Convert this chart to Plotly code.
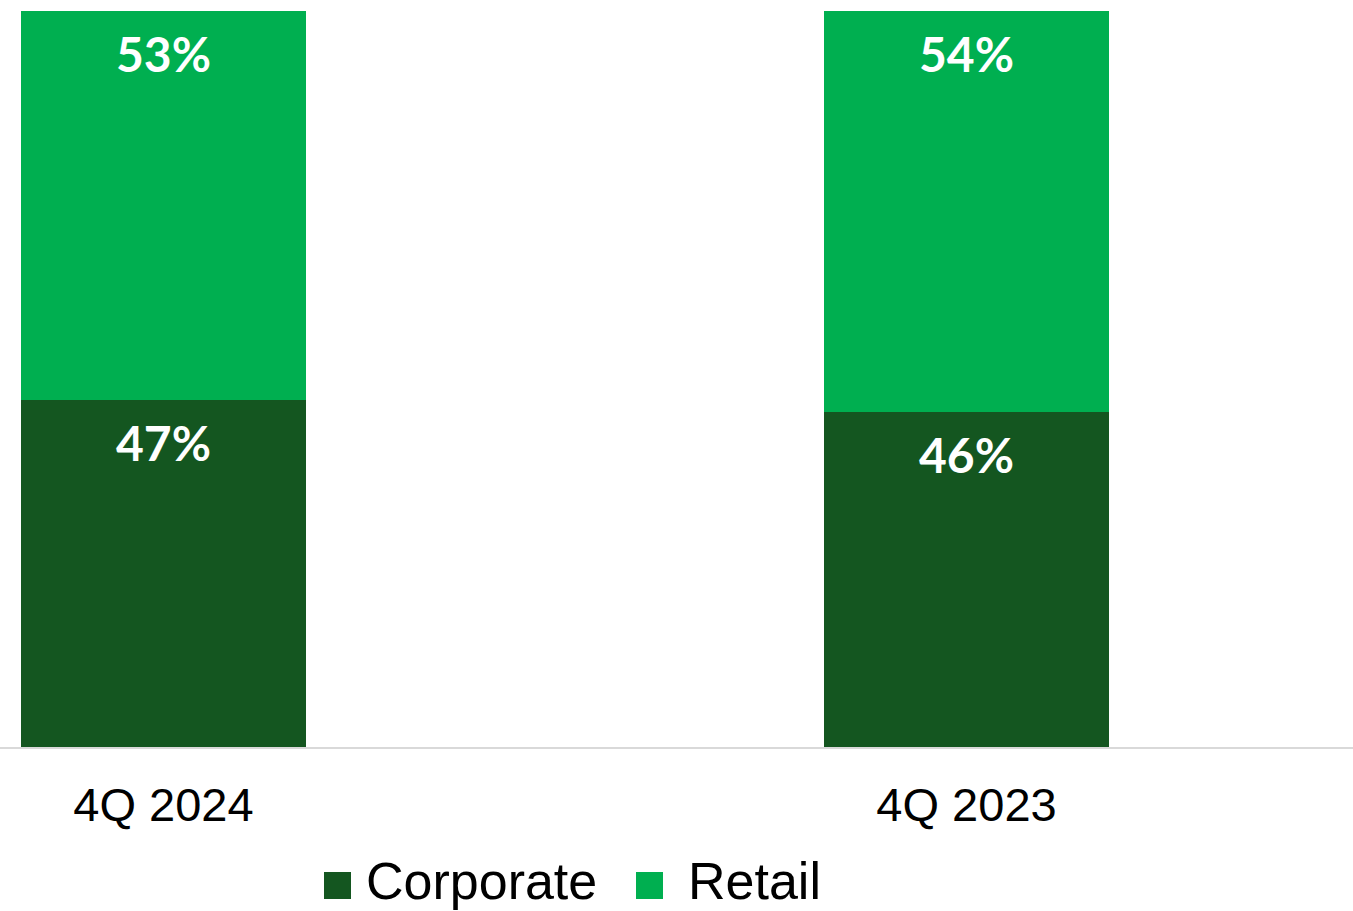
import plotly.graph_objects as go

categories = ["4Q 2024", "4Q 2023"]
series_names = ["Corporate", "Retail"]
corporate = [47.1, 45.5]
retail = [52.9, 54.5]
corporate_labels = ["47%", "46%"]
retail_labels = ["53%", "54%"]

dark = "#145620"
bright = "#00AF50"
colors = [dark, bright]

fig = go.Figure()
fig.add_trace(go.Bar(name=series_names[0], x=categories, y=corporate,
                     marker=dict(color=dark, line=dict(width=0)), width=0.355))
fig.add_trace(go.Bar(name=series_names[1], x=categories, y=retail,
                     marker=dict(color=bright, line=dict(width=0)), width=0.355))

label_font = dict(family="Lato", size=48, color="white")
annos = []
for i, c in enumerate(categories):
    annos.append(dict(x=c, y=corporate[i], text="<b>%s</b>" % corporate_labels[i], showarrow=False,
                      yanchor="middle", yshift=-42, font=label_font))
    annos.append(dict(x=c, y=corporate[i] + retail[i], text="<b>%s</b>" % retail_labels[i], showarrow=False,
                      yanchor="middle", yshift=-42, font=label_font))

# custom legend (large square swatches)
W, PT, PB = 1353.0, 11.0, 747.0
ph = PB - PT
def py(v):
    return (PB - v) / ph

shapes = []
swatch_x = [324, 636]
text_x = [364, 686]
for name, col, sx, tx in zip(series_names, colors, swatch_x, text_x):
    shapes.append(dict(type="rect", xref="paper", yref="paper",
                       x0=sx / W, x1=(sx + 27) / W, y0=py(899), y1=py(872),
                       fillcolor=col, line=dict(width=0)))
    annos.append(dict(xref="paper", yref="paper", x=tx / W, y=py(881), xanchor="left", yanchor="middle",
                      text=name, showarrow=False,
                      font=dict(family="Liberation Sans, Arial", size=52, color="black")))

fig.update_layout(
    barmode="stack",
    width=1353, height=911,
    margin=dict(l=0, r=0, t=11, b=164, autoexpand=False),
    paper_bgcolor="white", plot_bgcolor="white",
    annotations=annos,
    shapes=shapes,
    showlegend=False,
    xaxis=dict(type="category", range=[-0.2036, 1.4813], showline=True, linecolor="#d9d9d9", linewidth=2,
               showgrid=False, ticks="", ticklabelstandoff=16, automargin=False,
               tickfont=dict(family="Liberation Sans, Arial", size=47, color="black")),
    yaxis=dict(range=[0, 100], visible=False, showgrid=False, automargin=False),
)

fig.write_html("out.html")
